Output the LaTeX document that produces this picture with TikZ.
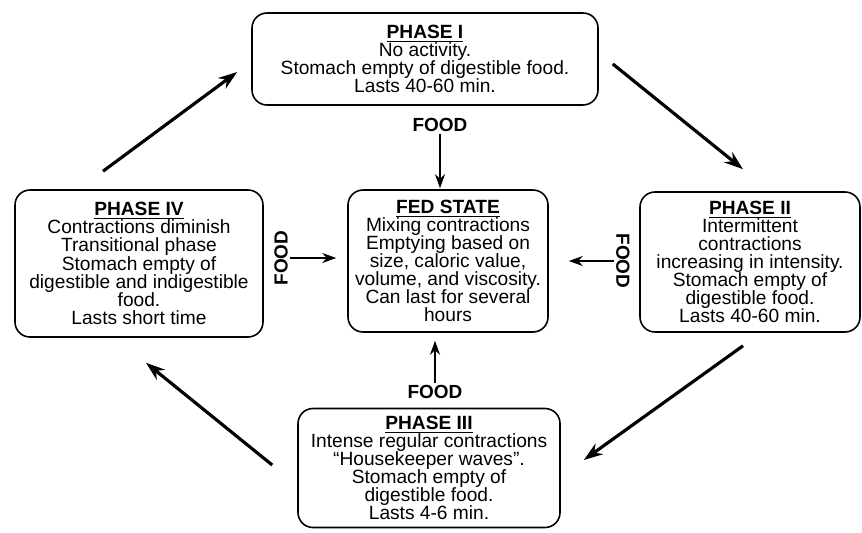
\documentclass[tikz,border=0pt]{standalone}
\usepackage{fontspec}
\setmainfont{Liberation Sans}
\usetikzlibrary{arrows.meta}
\usetikzlibrary{positioning}

\tikzset{
  phase/.style={draw, line width=0.9pt, rounded corners=0.3cm, align=center,
    font=\fontsize{10.9}{10.3}\selectfont, inner sep=0pt},
  food/.style={font=\bfseries\fontsize{10.8}{12}\selectfont, inner sep=1pt},
  cyc/.style={-{Stealth[length=0.38cm,width=0.26cm]}, line width=1.8pt},
  feed/.style={-{Stealth[length=0.28cm,width=0.2cm]}, line width=1.2pt}
}
\newcommand{\phasehead}[1]{\underline{\textbf{#1}}}

\begin{document}
\begin{tikzpicture}
          \useasboundingbox (0,0) rectangle (17.24,10.64);

          \node[phase, minimum width=6.92cm, minimum height=1.84cm] (p1) at (8.50,9.46)
            {\phasehead{PHASE I}\\No activity.\\Stomach empty of digestible food.\\Lasts 40-60 min.};
          \node[phase, minimum width=4.4cm, minimum height=2.8cm] (p2) at (15.0,5.40)
            {\phasehead{PHASE II}\\Intermittent\\contractions\\increasing in intensity.\\Stomach empty of\\digestible food.\\Lasts 40-60 min.};
          \node[phase, minimum width=5.24cm, minimum height=2.38cm] (p3) at (8.58,1.28)
            {\phasehead{PHASE III}\\Intense regular contractions\\``Housekeeper waves''.\\Stomach empty of\\digestible food.\\Lasts 4-6 min.};
          \node[phase, minimum width=4.96cm, minimum height=2.94cm] (p4) at (2.78,5.37)
            {\phasehead{PHASE IV}\\Contractions diminish\\Transitional phase\\Stomach empty of\\digestible and indigestible\\food.\\Lasts short time};
          \node[phase, minimum width=4.0cm, minimum height=2.84cm] (fed) at (8.96,5.42)
            {\phasehead{FED STATE}\\Mixing contractions\\Emptying based on\\size, caloric value,\\volume, and viscosity.\\Can last for several\\hours};

          \node[food] (ftop) at (8.80,8.14) {FOOD};
          \node[food, rotate=90] (fleft) at (5.62,5.48) {FOOD};
          \node[food, rotate=-90] (fright) at (12.46,5.42) {FOOD};
          \node[food] (fbot) at (8.70,2.80) {FOOD};

          % food into the fed state
          \draw[feed, shorten >=0.02cm] (ftop.south) -- (ftop.south |- fed.north);
          \draw[feed, shorten >=0.22cm] (fleft.south) -- (fleft.south -| fed.west);
          \draw[feed, shorten >=0.40cm] (fright.south) -- (fright.south -| fed.east);
          \draw[feed, shorten >=0.16cm] (fbot.north) -- (fbot.north |- fed.south);

          % the fasting cycle
          \draw[cyc] ([shift={(-0.72,0.36)}]p4.north) -- ([shift={(-0.28,-0.26)}]p1.west);
          \draw[cyc] ([shift={(0.28,-0.10)}]p1.east) -- ([shift={(-0.14,0.44)}]p2.north);
          \draw[cyc] ([shift={(-0.14,-0.26)}]p2.south) -- ([shift={(0.46,0.16)}]p3.east);
          \draw[cyc] ([shift={(-0.50,0.06)}]p3.west) -- ([shift={(0.14,-0.50)}]p4.south);
        \end{tikzpicture}
\end{document}
